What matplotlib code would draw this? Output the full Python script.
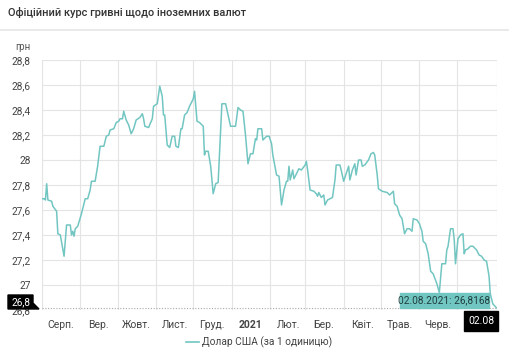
import matplotlib.pyplot as plt
import pandas as pd
from matplotlib.patches import Polygon

plt.rcParams['font.family'] = ['Roboto', 'DejaVu Sans']

# Official UAH/USD rate, Aug 2020 - Aug 2021
dates = [
    '2020-08-01', '2020-08-03', '2020-08-04', '2020-08-05', '2020-08-06', '2020-08-09',
    '2020-08-10', '2020-08-13', '2020-08-14', '2020-08-16', '2020-08-19', '2020-08-21',
    '2020-08-24', '2020-08-25', '2020-08-26', '2020-08-27', '2020-08-28', '2020-08-30',
    '2020-09-02', '2020-09-05', '2020-09-07', '2020-09-09', '2020-09-10', '2020-09-13',
    '2020-09-15', '2020-09-17', '2020-09-20', '2020-09-22', '2020-09-24', '2020-09-25',
    '2020-09-28', '2020-09-30', '2020-10-02', '2020-10-03', '2020-10-05', '2020-10-06',
    '2020-10-08', '2020-10-10', '2020-10-12', '2020-10-14', '2020-10-16', '2020-10-19',
    '2020-10-21', '2020-10-22', '2020-10-23', '2020-10-26', '2020-10-29', '2020-10-30',
    '2020-11-02', '2020-11-04', '2020-11-06', '2020-11-07', '2020-11-08', '2020-11-10',
    '2020-11-12', '2020-11-14', '2020-11-16', '2020-11-17', '2020-11-19', '2020-11-21',
    '2020-11-22', '2020-11-24', '2020-11-26', '2020-11-28', '2020-11-29', '2020-12-01',
    '2020-12-02', '2020-12-04', '2020-12-06', '2020-12-09', '2020-12-10', '2020-12-11',
    '2020-12-13', '2020-12-15', '2020-12-17', '2020-12-19', '2020-12-21', '2020-12-24',
    '2020-12-27', '2020-12-29', '2020-12-31', '2021-01-04', '2021-01-06', '2021-01-08',
    '2021-01-10', '2021-01-12', '2021-01-14', '2021-01-16', '2021-01-18', '2021-01-20',
    '2021-01-21', '2021-01-22', '2021-01-25', '2021-01-26', '2021-01-29', '2021-01-31',
    '2021-02-02', '2021-02-03', '2021-02-06', '2021-02-08', '2021-02-10', '2021-02-12',
    '2021-02-14', '2021-02-15', '2021-02-16', '2021-02-17', '2021-02-19', '2021-02-20',
    '2021-02-23', '2021-02-24', '2021-02-26', '2021-03-01', '2021-03-02', '2021-03-03',
    '2021-03-05', '2021-03-08', '2021-03-10', '2021-03-11', '2021-03-12', '2021-03-14',
    '2021-03-16', '2021-03-17', '2021-03-19', '2021-03-21', '2021-03-23', '2021-03-25',
    '2021-03-26', '2021-03-29', '2021-03-30', '2021-04-01', '2021-04-03', '2021-04-05',
    '2021-04-06', '2021-04-08', '2021-04-10', '2021-04-11', '2021-04-13', '2021-04-15',
    '2021-04-16', '2021-04-18', '2021-04-21', '2021-04-23', '2021-04-25', '2021-04-26',
    '2021-04-28', '2021-04-29', '2021-05-02', '2021-05-06', '2021-05-08', '2021-05-11',
    '2021-05-12', '2021-05-14', '2021-05-16', '2021-05-18', '2021-05-20', '2021-05-22',
    '2021-05-24', '2021-05-26', '2021-05-27', '2021-05-30', '2021-06-01', '2021-06-03',
    '2021-06-04', '2021-06-06', '2021-06-08', '2021-06-10', '2021-06-12', '2021-06-15',
    '2021-06-17', '2021-06-19', '2021-06-22', '2021-06-23', '2021-06-24', '2021-06-26',
    '2021-06-28', '2021-06-29', '2021-06-30', '2021-07-02', '2021-07-04', '2021-07-06',
    '2021-07-07', '2021-07-08', '2021-07-10', '2021-07-12', '2021-07-14', '2021-07-17',
    '2021-07-19', '2021-07-21', '2021-07-23', '2021-07-25', '2021-07-27', '2021-07-28',
    '2021-07-30', '2021-08-02',
]
usd = [
    27.69, 27.69, 27.68, 27.81, 27.68, 27.67,
    27.63, 27.59, 27.41, 27.40, 27.23, 27.48,
    27.48, 27.40, 27.43, 27.39, 27.45, 27.47,
    27.57, 27.69, 27.69, 27.76, 27.83, 27.83,
    27.95, 28.11, 28.11, 28.19, 28.20, 28.24,
    28.25, 28.30, 28.31, 28.33, 28.33, 28.39,
    28.32, 28.28, 28.21, 28.25, 28.32, 28.34,
    28.37, 28.33, 28.27, 28.26, 28.33, 28.43,
    28.45, 28.59, 28.51, 28.36, 28.36, 28.12,
    28.10, 28.19, 28.19, 28.11, 28.10, 28.25,
    28.25, 28.36, 28.38, 28.43, 28.45, 28.49,
    28.55, 28.31, 28.30, 28.27, 28.04, 28.07,
    28.07, 27.95, 27.73, 27.81, 27.82, 28.45,
    28.45, 28.36, 28.27, 28.27, 28.42, 28.40,
    28.39, 28.20, 27.97, 28.05, 28.05, 28.17,
    28.16, 28.25, 28.25, 28.16, 28.19, 28.19,
    28.13, 28.04, 27.88, 27.87, 27.64, 27.76,
    27.83, 27.83, 27.95, 27.84, 27.92, 27.85,
    27.91, 27.93, 27.92, 27.96, 27.99, 27.92,
    27.76, 27.75, 27.73, 27.71, 27.74, 27.70,
    27.72, 27.64, 27.68, 27.69, 27.70, 27.84,
    27.96, 27.96, 27.92, 27.83, 27.89, 27.95,
    27.84, 27.92, 27.97, 27.88, 28.00, 28.00,
    27.95, 27.96, 28.00, 28.05, 28.06, 28.04,
    27.88, 27.77, 27.75, 27.74, 27.72, 27.75,
    27.65, 27.63, 27.56, 27.53, 27.41, 27.45,
    27.45, 27.43, 27.53, 27.52, 27.49, 27.43,
    27.35, 27.33, 27.25, 27.11, 27.09, 27.01,
    26.94, 27.17, 27.17, 27.28, 27.31, 27.45,
    27.45, 27.36, 27.17, 27.37, 27.40, 27.41,
    27.25, 27.28, 27.29, 27.31, 27.31, 27.28,
    27.24, 27.23, 27.20, 27.19, 27.07, 26.93,
    26.85, 26.8168,
]
month_labels = ['Серп.', 'Вер.', 'Жовт.', 'Лист.', 'Груд.', '2021',
                'Лют.', 'Бер.', 'Квіт.', 'Трав.', 'Черв.']
y_ticks = [26.8, 27.0, 27.2, 27.4, 27.6, 27.8, 28.0, 28.2, 28.4, 28.6, 28.8]

x = pd.to_datetime(dates)
teal = '#72c6c2'
W, H = 509, 350


def fx(px):
    return px / W


def fy(py):
    return 1 - py / H


fig = plt.figure(figsize=(W / 100, H / 100), dpi=100)
ax = fig.add_axes([fx(41.7), fy(310), fx(496.5) - fx(41.7), fy(60) - fy(310)])

ax.plot(x, usd, color=teal, lw=1.1, zorder=3)

ax.set_xlim(pd.Timestamp('2020-08-01'), pd.Timestamp('2021-08-02'))
ax.set_ylim(26.8, 28.8)

# month boundaries as grid, labels in the middle of each month
month_starts = pd.date_range('2020-08-01', '2021-07-01', freq='MS')
ax.set_xticks(month_starts)
ax.set_xticklabels([])
mids = month_starts[:11] + pd.Timedelta(days=15)
ax.set_xticks(mids, minor=True)
ax.set_xticklabels(month_labels, minor=True)
for lbl in ax.get_xticklabels(minor=True):
    if lbl.get_text() == '2021':
        lbl.set_fontweight('bold')
        lbl.set_color('#111111')
ax.tick_params(axis='x', which='both', length=0, labelsize=7.5,
               labelcolor='#444444', pad=7)

ax.set_yticks(y_ticks)
ax.set_yticklabels([('%g' % v).replace('.', ',') for v in y_ticks])
ax.tick_params(axis='y', length=0, labelsize=7.3, labelcolor='#444444', pad=8)

ax.grid(True, which='major', color='#e4e4e4', lw=0.8)
for s in ax.spines.values():
    s.set_visible(False)
ax.axvline(ax.get_xlim()[0], color='#e4e4e4', lw=0.8)

# crosshair at the last point
last_x, last_y = x[-1], usd[-1]
ax.axhline(last_y, color='#aaaaaa', lw=0.8, ls=(0, (1, 1.5)), zorder=4)
ax.axvline(last_x, color='#aaaaaa', lw=0.8, ls=(0, (1, 1.5)), zorder=4)

# header
fig.text(fx(8), fy(13), 'Офіційний курс гривні щодо іноземних валют',
         fontsize=7.9, color='#333333', fontweight='medium', va='center', ha='left')
fig.add_artist(plt.Line2D([0, 1], [fy(29.5), fy(29.5)], color='#e6e6e6', lw=1.2))
fig.text(fx(15), fy(47), 'грн', fontsize=7, color='#555555', va='center', ha='left')

# crosshair value label on the y-axis
box = Polygon([[fx(8), fy(295)], [fx(33), fy(295)], [fx(33), fy(303)],
               [fx(39), fy(309)], [fx(8), fy(309)]],
              closed=True, transform=fig.transFigure, color='black', zorder=10)
fig.add_artist(box)
fig.text(fx(20.5), fy(302), ('%.1f' % last_y).replace('.', ','), color='white',
         fontsize=7.3, ha='center', va='center', zorder=11)

# crosshair date label on the x-axis
fig.add_artist(plt.Rectangle((fx(464), fy(331)), fx(498) - fx(464), fy(311) - fy(331),
                             transform=fig.transFigure, color='black', zorder=10))
fig.text(fx(481), fy(321), last_x.strftime('%d.%m'), color='white',
         fontsize=7.5, ha='center', va='center', zorder=11)

# tooltip
fig.add_artist(plt.Rectangle((fx(400), fy(308)), fx(489) - fx(400), fy(293) - fy(308),
                             transform=fig.transFigure, color=teal, zorder=10))
fig.text(fx(444.5), fy(300.5),
         '%s: %s' % (last_x.strftime('%d.%m.%Y'), ('%.4f' % last_y).replace('.', ',')),
         color='#1f3f3f', fontsize=7.3, ha='center', va='center', zorder=11)

# legend
fig.add_artist(plt.Line2D([fx(186), fx(199)], [fy(342), fy(342)], color=teal, lw=1.2))
fig.text(fx(202), fy(342), 'Долар США (за 1 одиницю)', fontsize=7.3,
         color='#444444', va='center', ha='left')

fig.savefig('out.png', dpi=100)
